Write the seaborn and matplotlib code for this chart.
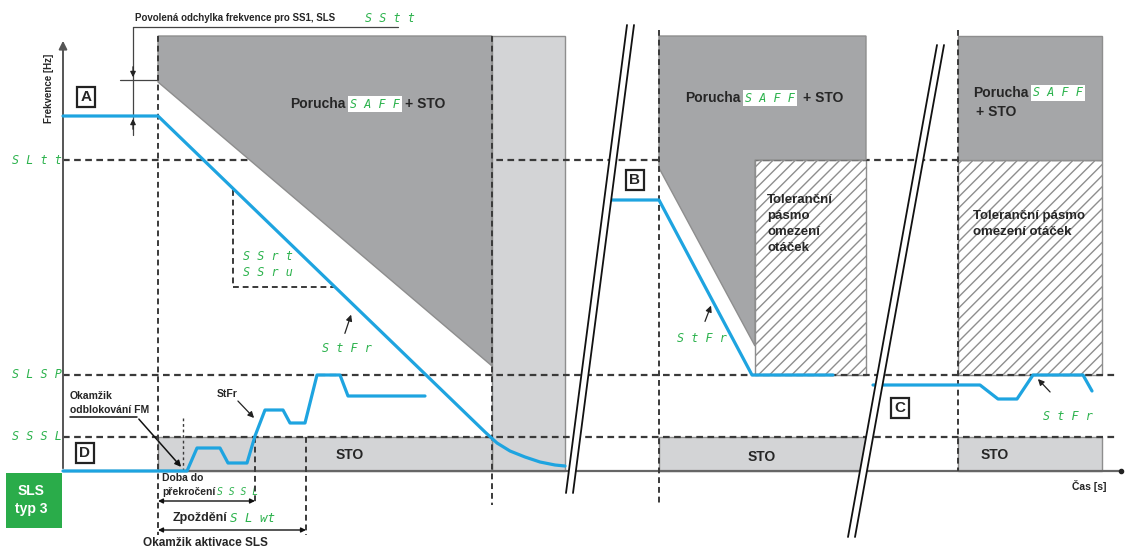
import matplotlib
matplotlib.use("Agg")
import matplotlib.pyplot as plt
import seaborn as sns
from matplotlib.patches import Polygon, Rectangle

# schematic is laid out in screen pixels (x right, y down)
W, H = 1128, 549

# threshold levels on the frequency axis
level_names = ["S L t t", "S L S P", "S S S L"]
level_y = [160, 375, 437]

# blue frequency profiles for the four cases
prof_a_x = [63, 158, 485, 497, 510, 525, 540, 555, 565]
prof_a_y = [116, 116, 432, 443, 451, 457, 462, 465, 466]
prof_d_x = [63, 187, 197, 220, 228, 247, 255, 265, 283, 290, 305, 317, 340, 348, 425]
prof_d_y = [471, 471, 448, 448, 463, 463, 436, 410, 410, 423, 423, 375, 375, 396, 396]
prof_b_x = [607, 659, 752, 833]
prof_b_y = [200, 200, 375, 375]
prof_c_x = [873, 980, 998, 1017, 1033, 1083, 1092]
prof_c_y = [385, 385, 399, 399, 375, 375, 391]
profiles = [(prof_a_x, prof_a_y), (prof_d_x, prof_d_y),
            (prof_b_x, prof_b_y), (prof_c_x, prof_c_y)]

case_labels = ["A", "B", "C", "D"]

sns.set_theme(style="white")
plt.rcParams["font.family"] = ["Liberation Sans", "DejaVu Sans"]
plt.rcParams["hatch.color"] = "#7a7a7a"
plt.rcParams["hatch.linewidth"] = 1.0

DARK = "#a5a6a8"
LIGHT = "#d3d4d6"
EDGE = "#8e8e8e"
BLUE = "#1ea4e0"
GREEN = "#2bb24c"
INK = "#3a3a3a"
DASH = (0, (3, 2))
SEG = dict(family="DejaVu Sans Mono", color=GREEN, style="oblique")

fig = plt.figure(figsize=(W / 100, H / 100), dpi=100)
ax = fig.add_axes([0, 0, 1, 1])
ax.set_xlim(0, W)
ax.set_ylim(H, 0)
ax.axis("off")


def zone(pts, fc, z, hatch=None):
    ax.add_patch(Polygon(pts, closed=True, facecolor=fc, edgecolor=EDGE,
                         lw=1, hatch=hatch, zorder=z))


# light gray STO zones
zone([(492, 36), (565, 36), (565, 471), (492, 471)], LIGHT, 1)
zone([(158, 437), (492, 437), (492, 471), (158, 471)], LIGHT, 1)
zone([(659, 437), (866, 437), (866, 471), (659, 471)], LIGHT, 1)
zone([(958, 437), (1102, 437), (1102, 471), (958, 471)], LIGHT, 1)
# hatched tolerance bands
zone([(755, 160), (866, 160), (866, 375), (755, 375)], "white", 1, "///")
zone([(958, 160), (1102, 160), (1102, 375), (958, 375)], "white", 1, "///")
# dark fault zones
zone([(158, 36), (492, 36), (492, 366), (158, 82)], DARK, 3)
zone([(659, 36), (866, 36), (866, 160), (755, 160), (755, 346), (659, 168)], DARK, 3)
zone([(958, 36), (1102, 36), (1102, 160), (958, 160)], DARK, 3)

# threshold lines + labels
for i, (name, y) in enumerate(zip(level_names, level_y)):
    ax.plot([63, 1102 if i == 0 else 1115], [y, y], color=INK, lw=1.6, ls=DASH, zorder=2)
    ax.text(12, y, name, fontsize=8.5, va="center", ha="left", **SEG)

# vertical markers
for x, y0, y1 in [(158, 36, 535), (492, 36, 505), (659, 30, 505), (958, 30, 471),
                  (233, 190, 287), (255, 437, 505), (306, 437, 535)]:
    ax.plot([x, x], [y0, y1], color=INK, lw=1.4, ls=DASH, zorder=3.5)
ax.plot([183, 183], [418, 471], color=INK, lw=1.0, ls=(0, (2, 2)), zorder=3.5)
ax.plot([233, 335], [287, 287], color=INK, lw=1.4, ls=DASH, zorder=3.5)

# axes
ax.annotate("", xy=(63, 38), xytext=(63, 471),
            arrowprops=dict(arrowstyle="-|>", color="#555", lw=1.4, mutation_scale=12), zorder=2)
ax.plot([63, 1120], [471, 471], color="#666", lw=1.6, zorder=2.5)
ax.plot([1121], [471], "o", color="#222", ms=3, zorder=2.5)

# blue profiles
for xs, ys in profiles:
    sns.lineplot(x=xs, y=ys, sort=False, estimator=None, color=BLUE, lw=2.3, ax=ax, zorder=4)

# axis breaks
for (xa, ya, xb, yb) in [(627, 25, 566, 493), (937, 45, 848, 537)]:
    g = 7
    ax.add_patch(Polygon([(xa, ya), (xa + g, ya), (xb + g, yb), (xb, yb)],
                         closed=True, facecolor="white", edgecolor="none", zorder=4.5))
    ax.plot([xa, xb], [ya, yb], color="#111", lw=1.3, zorder=4.6)
    ax.plot([xa + g, xb + g], [ya, yb], color="#111", lw=1.3, zorder=4.6)

# case letters
for lab, (x, y) in zip(case_labels, [(86, 97), (635, 180), (900, 408), (85, 453)]):
    ax.text(x, y, lab, ha="center", va="center", fontsize=11, fontweight="bold", zorder=6,
            bbox=dict(boxstyle="square,pad=0.22", fc="white", ec="#222", lw=1.6))

# SStt tolerance bracket
ax.text(135, 18, "Povolená odchylka frekvence pro SS1, SLS", fontsize=7, fontweight="bold",
        va="center", ha="left")
ax.text(365, 18, "S S t t", fontsize=8.5, va="center", ha="left", **SEG)
ax.plot([133, 398], [27, 27], color="#444", lw=0.9)
ax.plot([133, 133], [27, 135], color="#444", lw=0.9)
ax.plot([120, 158], [80, 80], color="#444", lw=0.9)
ax.annotate("", xy=(133, 80), xytext=(133, 64),
            arrowprops=dict(arrowstyle="-|>", color="#222", lw=0.9, mutation_scale=8))
ax.annotate("", xy=(133, 116), xytext=(133, 132),
            arrowprops=dict(arrowstyle="-|>", color="#222", lw=0.9, mutation_scale=8))
ax.text(49, 88, "Frekvence [Hz]", rotation=90, fontsize=7, fontweight="bold",
        ha="center", va="center")

# fault labels
SAFF = dict(fontsize=8.5, va="center", ha="left", zorder=6,
            bbox=dict(boxstyle="square,pad=0.15", fc="white", ec="none"), **SEG)
for xp, y, xs, xo, yo in [(290, 104, 350, 405, 104), (685, 98, 745, 803, 98),
                          (973, 93, 1033, 976, 112)]:
    ax.text(xp, y, "Porucha", fontsize=10, fontweight="bold", va="center", ha="left", zorder=6)
    ax.text(xs, y, "S A F F", **SAFF)
    ax.text(xo, yo, "+ STO", fontsize=10, fontweight="bold", va="center", ha="left", zorder=6)

ax.text(767, 194, "Toleranční\npásmo\nomezení\notáček", fontsize=9.5, fontweight="bold",
        va="top", ha="left", linespacing=1.45, zorder=6)
ax.text(973, 210, "Toleranční pásmo\nomezení otáček", fontsize=9.5, fontweight="bold",
        va="top", ha="left", linespacing=1.45, zorder=6)
for x, y in [(350, 455), (762, 457), (995, 455)]:
    ax.text(x, y, "STO", fontsize=10, fontweight="bold", ha="center", va="center", zorder=6)
ax.text(1106, 486, "Čas [s]", fontsize=7.5, fontweight="bold", ha="right", va="center")

# ramp labels
ax.text(243, 256, "S S r t", fontsize=8.5, va="center", ha="left", **SEG)
ax.text(243, 273, "S S r u", fontsize=8.5, va="center", ha="left", **SEG)
ARW = dict(arrowstyle="-|>", color="#222", lw=0.9, mutation_scale=9)
for tip, tail, lab in [((352, 312), (344, 336), (322, 348)),
                       ((712, 303), (704, 324), (677, 339)),
                       ((1036, 377), (1052, 394), (1043, 416))]:
    ax.annotate("", xy=tip, xytext=tail, arrowprops=ARW, zorder=6)
    ax.text(lab[0], lab[1], "S t F r", fontsize=8.5, va="center", ha="left", **SEG)
ax.text(217, 394, "StFr", fontsize=7.5, fontweight="bold", va="center", ha="left")
ax.annotate("", xy=(256, 420), xytext=(236, 399), arrowprops=ARW)

# case D annotations
ax.text(70, 403, "Okamžik\nodblokování FM", fontsize=7.5, fontweight="bold",
        va="center", ha="left", linespacing=1.55)
ax.plot([70, 137], [417, 417], color="#111", lw=1.1)
ax.annotate("", xy=(183, 469), xytext=(137, 417),
            arrowprops=dict(arrowstyle="-|>", color="#111", lw=1.1, mutation_scale=9))
ax.text(162, 485, "Doba do\npřekročení", fontsize=7.5, fontweight="bold",
        va="center", ha="left", linespacing=1.6)
ax.text(217, 492, "S S S L", fontsize=7, va="center", ha="left", **SEG)
DBL = dict(arrowstyle="<|-|>", color="#111", lw=1.0, mutation_scale=7, shrinkA=0, shrinkB=0)
ax.annotate("", xy=(158, 501), xytext=(255, 501), arrowprops=DBL)
ax.text(173, 518, "Zpoždění", fontsize=9, fontweight="bold", va="center", ha="left")
ax.text(230, 518, "S L wt", fontsize=9, va="center", ha="left", **SEG)
ax.annotate("", xy=(158, 530), xytext=(306, 530), arrowprops=DBL)
ax.text(205, 543, "Okamžik aktivace SLS", fontsize=8.5, fontweight="bold",
        va="center", ha="center")

ax.add_patch(Rectangle((6, 473), 56, 55, facecolor="#2aac4a", edgecolor="none"))
ax.text(31, 500, "SLS\ntyp 3", color="white", fontsize=10, fontweight="bold",
        ha="center", va="center", linespacing=1.45)

fig.savefig("out.png", dpi=100)
